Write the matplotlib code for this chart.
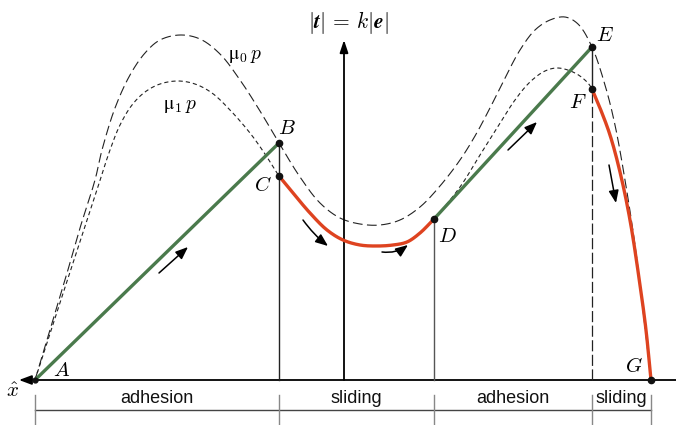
import numpy as np
import matplotlib
matplotlib.use("Agg")
import matplotlib.pyplot as plt
from matplotlib.patches import FancyArrowPatch

plt.rcParams["mathtext.fontset"] = "cm"
plt.rcParams["lines.scale_dashes"] = False

# ---- schematic data (x: displacement along x-hat, y: traction |t|) ----
# static friction limit  mu0 * p
mu0_x = [0, 15, 30, 45, 60, 67, 80, 95, 110, 125, 145, 165, 185, 205, 225, 244, 265, 285,
         305, 325, 345, 365, 385, 405, 425, 440, 455, 470, 485, 500, 515, 530, 543, 557,
         570, 580, 590, 600, 608, 616]
mu0_y = [0, 50, 100, 152, 200, 230, 272, 305, 327, 340, 345, 341, 326, 300, 269, 237, 203, 177,
         162, 156, 155, 160, 173, 194, 220, 244, 272, 302, 330, 350, 360, 363, 356, 333,
         295, 255, 200, 135, 70, 0]

# kinetic friction limit  mu1 * p, split into the parts around the sliding phases
mu1_left_x = [0, 20, 40, 60, 75, 85, 97, 110, 125, 143, 160, 177, 195, 215, 230, 244]
mu1_left_y = [0, 62, 123, 184, 230, 255, 275, 288, 296, 299, 296, 287, 270, 247, 226, 204]
slide1_x = [244, 258, 275, 292, 308, 325, 342, 358, 372, 385, 399]
slide1_y = [204, 187, 167, 150, 140, 135, 134, 135, 138, 147, 161]
mu1_right_x = [399, 425, 445, 462, 480, 495, 510, 523, 540, 552, 557]
mu1_right_y = [161, 193, 225, 252, 280, 298, 309, 312, 307, 298, 291]
slide2_x = [557, 565, 575, 585, 595, 605, 611, 616]
slide2_y = [291, 272, 245, 208, 160, 95, 50, 0]

# characteristic points
pt_names = ["A", "B", "C", "D", "E", "F", "G"]
pt_x = [0, 244, 244, 399, 557, 557, 616]
pt_y = [0, 237, 204, 161, 333, 291, 0]

# phases along the path
phase_edges = [0, 244, 399, 557, 616]
phase_names = ["adhesion", "sliding", "adhesion", "sliding"]

GREEN = "#4a7a4c"
RED = "#de4320"


def smooth(xs, ys, n=20, alpha=0.5):
    """Centripetal Catmull-Rom curve through the given points."""
    p = np.column_stack([xs, ys]).astype(float)
    p = np.vstack([2 * p[0] - p[1], p, 2 * p[-1] - p[-2]])
    out = []
    for i in range(1, len(p) - 2):
        p0, p1, p2, p3 = p[i - 1], p[i], p[i + 1], p[i + 2]
        t0 = 0.0
        t1 = t0 + np.linalg.norm(p1 - p0) ** alpha
        t2 = t1 + np.linalg.norm(p2 - p1) ** alpha
        t3 = t2 + np.linalg.norm(p3 - p2) ** alpha
        t = np.linspace(t1, t2, n, endpoint=False)[:, None]
        a1 = (t1 - t) / (t1 - t0) * p0 + (t - t0) / (t1 - t0) * p1
        a2 = (t2 - t) / (t2 - t1) * p1 + (t - t1) / (t2 - t1) * p2
        a3 = (t3 - t) / (t3 - t2) * p2 + (t - t2) / (t3 - t2) * p3
        b1 = (t2 - t) / (t2 - t0) * a1 + (t - t0) / (t2 - t0) * a2
        b2 = (t3 - t) / (t3 - t1) * a2 + (t - t1) / (t3 - t1) * a3
        out.append((t2 - t) / (t2 - t1) * b1 + (t - t1) / (t2 - t1) * b2)
    out.append(p[-2][None, :])
    out = np.vstack(out)
    return out[:, 0], out[:, 1]


fig = plt.figure(figsize=(6.76, 4.25), dpi=100)
ax = fig.add_axes([0, 0, 1, 1])
ax.set_xlim(-35, 641)
ax.set_ylim(-45, 380)
ax.axis("off")

# friction limit curves
x, y = smooth(mu0_x, mu0_y)
ax.plot(x, y, color="#222222", lw=0.8, dashes=(7, 3.2), zorder=2)
mu1_x = mu1_left_x + slide1_x[1:] + mu1_right_x[1:] + slide2_x[1:]
mu1_y = mu1_left_y + slide1_y[1:] + mu1_right_y[1:] + slide2_y[1:]
x, y = smooth(mu1_x, mu1_y)
ax.plot(x, y, color="#222222", lw=0.8, dashes=(3, 2.2), zorder=2)

# axes of the diagram
ax.plot([pt_x[0], 641], [0, 0], color="black", lw=1.3, zorder=3)
ax.annotate("", xy=(-16, 0), xytext=(2, 0),
            arrowprops=dict(arrowstyle="-|>,head_length=0.75,head_width=0.28",
                            color="black", lw=1.3, shrinkA=0, shrinkB=0), zorder=4)
ax.annotate("", xy=(309, 340), xytext=(309, 0),
            arrowprops=dict(arrowstyle="-|>,head_length=0.75,head_width=0.25",
                            color="black", lw=1.3, shrinkA=0, shrinkB=0), zorder=4)

# vertical guides
ax.plot([pt_x[1], pt_x[1]], [0, pt_y[1]], color="#222222", lw=1.0, zorder=3)
ax.plot([pt_x[3], pt_x[3]], [0, pt_y[3]], color="#555555", lw=1.0, zorder=3)
ax.plot([pt_x[4], pt_x[5]], [pt_y[4], pt_y[5]], color="#222222", lw=1.0, zorder=3)
ax.plot([pt_x[5], pt_x[5]], [0, pt_y[5]], color="#222222", lw=0.9, dashes=(8, 2.5), zorder=3)

# adhesion (green) and sliding (red) branches
ax.plot([pt_x[0], pt_x[1]], [pt_y[0], pt_y[1]], color=GREEN, lw=2.4, zorder=5,
        solid_capstyle="butt")
ax.plot([pt_x[3], pt_x[4]], [pt_y[3], pt_y[4]], color=GREEN, lw=2.4, zorder=5,
        solid_capstyle="butt")
x, y = smooth(slide1_x, slide1_y)
ax.plot(x, y, color=RED, lw=2.4, zorder=5)
x, y = smooth(slide2_x, slide2_y)
ax.plot(x, y, color=RED, lw=2.4, zorder=5)

# points
ax.plot(pt_x[1:], pt_y[1:], "o", color="#111111", ms=4.5, zorder=6)
ax.plot(pt_x[0], pt_y[0], "o", color="#111111", ms=3.5, zorder=6)

label_off = {"A": (27, 10), "B": (8, 15), "C": (-16, -9), "D": (13, -17),
             "E": (13, 12), "F": (-14, -13), "G": (-17, 14)}
for n, px, py in zip(pt_names, pt_x, pt_y):
    dx, dy = label_off[n]
    ax.text(px + dx, py + dy, f"${n}$", fontsize=15, ha="center", va="center", zorder=7)

ax.text(-23, -11, r"$\hat{x}$", fontsize=15, ha="center", va="center")
ax.text(210, 325, r"$\mathrm{μ}_0\,p$", fontsize=14, ha="center", va="center")
ax.text(145, 275, r"$\mathrm{μ}_1\,p$", fontsize=14, ha="center", va="center")
ax.text(313, 358, r"$|\mathbfit{t}|\,=\,k|\mathbfit{e}|$", fontsize=15.5,
        ha="center", va="center")

# direction arrows
arw = dict(arrowstyle="-|>,head_length=0.75,head_width=0.3", color="black", lw=1.1,
           shrinkA=0, shrinkB=0)
for (x0, y0), (x1, y1), rad in [((124, 107), (153, 133), 0.0),
                                ((473, 230), (502, 258), 0.0),
                                ((268, 160), (293, 134), 0.07),
                                ((347, 128), (373, 135), 0.2),
                                ((574, 215), (581, 177), 0.0)]:
    ax.add_patch(FancyArrowPatch((x0, y0), (x1, y1), connectionstyle=f"arc3,rad={rad}",
                                 mutation_scale=10, zorder=6, **arw))

# phase bracket
ax.plot([phase_edges[0], phase_edges[-1]], [-30, -30], color="#444444", lw=1.0)
for e in phase_edges:
    ax.plot([e, e], [-15, -45], color="#888888", lw=1.0)
for a, b, name in zip(phase_edges[:-1], phase_edges[1:], phase_names):
    ax.text((a + b) / 2, -23, name, fontsize=13, family="Liberation Sans",
            ha="center", va="baseline", color="#111111")

fig.savefig("out.png", dpi=100)
